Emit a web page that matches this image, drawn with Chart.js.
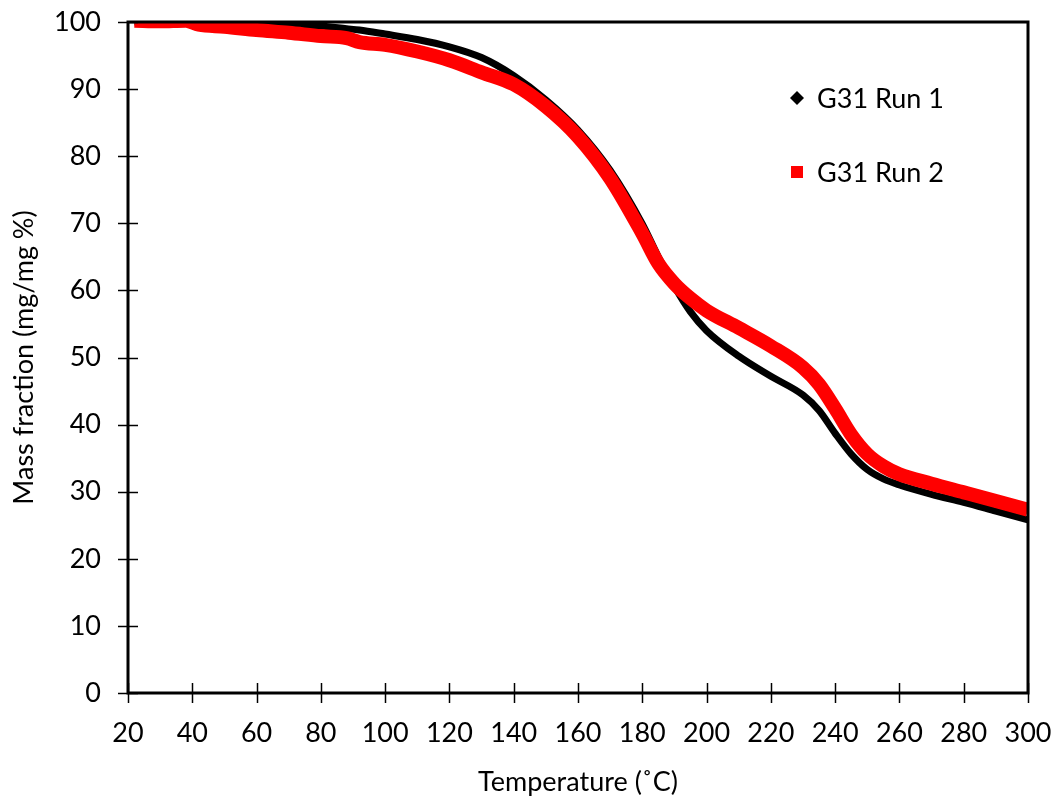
<!DOCTYPE html>
<html>
<head>
<meta charset="utf-8">
<script src="https://cdn.jsdelivr.net/npm/chart.js@4"></script>
<style>
  body { margin: 0; background: #fff; }
</style>
</head>
<body>
<canvas id="tgaChart" width="1056" height="796"></canvas>
<script>
// temperatures (°C) shared by both runs
const temps = [22, 30, 38, 42, 50, 60, 70, 80, 88, 92, 100, 110, 120, 130, 140, 150, 160, 170, 180, 185, 190, 195, 200, 210, 220, 230, 235, 240, 245, 250, 255, 260, 270, 280, 290, 300];
const run1Mass = [100.0, 100.0, 100.0, 100.0, 99.9, 99.8, 99.6, 99.4, 99.0, 98.8, 98.2, 97.4, 96.3, 94.7, 92.0, 88.4, 83.9, 77.9, 69.9, 65.0, 60.6, 56.8, 54.0, 50.2, 47.2, 44.4, 42.1, 38.7, 35.6, 33.3, 31.9, 31.0, 29.6, 28.4, 27.1, 25.8];
const run2Mass = [100.2, 100.1, 100.2, 99.6, 99.3, 98.8, 98.4, 97.9, 97.6, 97.0, 96.6, 95.6, 94.3, 92.5, 90.7, 87.4, 82.9, 76.7, 68.5, 64.0, 61.0, 58.8, 57.0, 54.4, 51.7, 48.5, 46.0, 42.4, 38.5, 35.6, 33.8, 32.6, 31.2, 29.9, 28.6, 27.3];
const seriesNames = ["G31 Run 1", "G31 Run 2"];
const xTicks = [20, 40, 60, 80, 100, 120, 140, 160, 180, 200, 220, 240, 260, 280, 300];
const yTicks = [0, 10, 20, 30, 40, 50, 60, 70, 80, 90, 100];

const FONT = "Lato, 'Open Sans', sans-serif";
const FSIZE = 27;

function toPoints(xs, ys) {
    return xs.map((x, i) => ({ x: x, y: ys[i] }));
}

// no extra room for half labels, the frame sits where the padding says
function noScalePadding(s) {
    s.paddingTop = 0; s.paddingBottom = 0; s.paddingLeft = 0; s.paddingRight = 0;
}

// frame, tick marks and legend, drawn Excel style
const excelFrame = {
    id: 'excelFrame',
    afterDatasetsDraw(chart) {
        const { ctx, chartArea: a, scales } = chart;
        ctx.save();
        ctx.strokeStyle = '#000';
        ctx.lineWidth = 1.5;
        yTicks.forEach(v => {
            const y = Math.round(scales.y.getPixelForValue(v)) + 0.5;
            ctx.beginPath();
            ctx.moveTo(a.left - 10, y);
            ctx.lineTo(a.left + 10, y);
            ctx.stroke();
        });
        xTicks.forEach(v => {
            const x = Math.round(scales.x.getPixelForValue(v)) + 0.5;
            ctx.beginPath();
            ctx.moveTo(x, a.bottom - 10);
            ctx.lineTo(x, a.bottom + 10);
            ctx.stroke();
        });
        ctx.lineWidth = 3;
        ctx.strokeRect(a.left, a.top, a.right - a.left, a.bottom - a.top);

        // legend
        ctx.font = FSIZE + "px " + FONT;
        ctx.textBaseline = 'middle';
        ctx.fillStyle = '#000';
        const lx = 797;
        ctx.beginPath();
        ctx.moveTo(lx, 91); ctx.lineTo(lx + 7, 98); ctx.lineTo(lx, 105); ctx.lineTo(lx - 7, 98);
        ctx.closePath();
        ctx.fill();
        ctx.fillText(seriesNames[0], 817, 99);
        ctx.fillStyle = '#ff0000';
        ctx.fillRect(lx - 6, 166, 12, 12);
        ctx.fillStyle = '#000';
        ctx.fillText(seriesNames[1], 817, 173);
        ctx.restore();
    }
};

new Chart(document.getElementById('tgaChart'), {
    type: 'scatter',
    data: {
        datasets: [
            {
                label: seriesNames[0],
                data: toPoints(temps, run1Mass),
                showLine: true,
                borderColor: '#000',
                borderWidth: 7,
                pointRadius: 0,
                cubicInterpolationMode: 'monotone',
                order: 2
            },
            {
                label: seriesNames[1],
                data: toPoints(temps, run2Mass),
                showLine: true,
                borderColor: '#ff0000',
                borderWidth: 14,
                borderCapStyle: 'butt',
                pointRadius: 0,
                cubicInterpolationMode: 'monotone',
                order: 1
            }
        ]
    },
    options: {
        responsive: false,
        animation: false,
        layout: { autoPadding: false, padding: { top: 22, right: 28, left: 0, bottom: 0 } },
        plugins: { legend: { display: false }, tooltip: { enabled: false } },
        scales: {
            x: {
                type: 'linear',
                min: 20, max: 300,
                afterBuildTicks: s => { s.ticks = xTicks.map(v => ({ value: v })); },
                afterFit: s => { s.height = 796 - 693; noScalePadding(s); },
                grid: { display: false, drawTicks: false },
                border: { display: false },
                ticks: { color: '#000', font: { family: FONT, size: FSIZE }, padding: 24, maxRotation: 0 },
                title: { display: true, text: 'Temperature (˚C)', color: '#000', font: { family: FONT, size: FSIZE }, padding: { top: 13, bottom: -2 } }
            },
            y: {
                min: 0, max: 100,
                afterBuildTicks: s => { s.ticks = yTicks.map(v => ({ value: v })); },
                afterFit: s => { s.width = 128; noScalePadding(s); },
                grid: { display: false, drawTicks: false },
                border: { display: false },
                ticks: { color: '#000', font: { family: FONT, size: FSIZE }, padding: 27 },
                title: { display: true, text: 'Mass fraction (mg/mg %)', color: '#000', font: { family: FONT, size: FSIZE }, padding: { top: 8, bottom: 8 } }
            }
        }
    },
    plugins: [excelFrame]
});
</script>
</body>
</html>
